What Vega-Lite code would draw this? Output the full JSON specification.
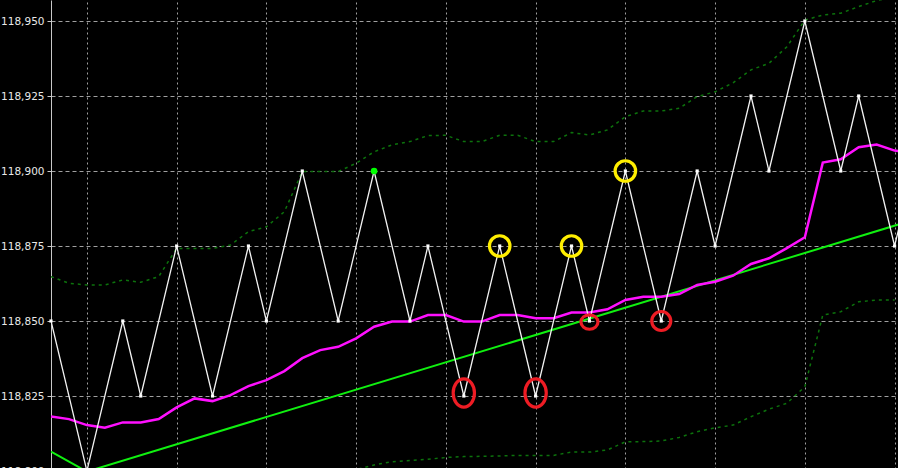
{
  "$schema": "https://vega.github.io/schema/vega-lite/v6.json",
  "width": 847,
  "height": 468,
  "autosize": {"type": "none"},
  "padding": {"left": 51, "top": 0, "right": 0, "bottom": 0},
  "background": "#000000",
  "config": {"view": {"stroke": null}},
  "datasets": {
    "price": [
      {"i": 0, "v": 118.850}, {"i": 2, "v": 118.800}, {"i": 4, "v": 118.850}, {"i": 5, "v": 118.825},
      {"i": 7, "v": 118.875}, {"i": 9, "v": 118.825}, {"i": 11, "v": 118.875}, {"i": 12, "v": 118.850},
      {"i": 14, "v": 118.900}, {"i": 16, "v": 118.850}, {"i": 18, "v": 118.900}, {"i": 20, "v": 118.850},
      {"i": 21, "v": 118.875}, {"i": 23, "v": 118.825}, {"i": 25, "v": 118.875}, {"i": 27, "v": 118.825},
      {"i": 29, "v": 118.875}, {"i": 30, "v": 118.850}, {"i": 32, "v": 118.900}, {"i": 34, "v": 118.850},
      {"i": 36, "v": 118.900}, {"i": 37, "v": 118.875}, {"i": 39, "v": 118.925}, {"i": 40, "v": 118.900},
      {"i": 42, "v": 118.950}, {"i": 44, "v": 118.900}, {"i": 45, "v": 118.925}, {"i": 47, "v": 118.875},
      {"i": 48, "v": 118.900}
    ],
    "ma": [
      {"i": 0, "v": 118.8182}, {"i": 1, "v": 118.8173}, {"i": 2, "v": 118.8153}, {"i": 3, "v": 118.8144},
      {"i": 4, "v": 118.8162}, {"i": 5, "v": 118.8162}, {"i": 6, "v": 118.8173}, {"i": 7, "v": 118.8212},
      {"i": 8, "v": 118.8242}, {"i": 9, "v": 118.8233}, {"i": 10, "v": 118.8253}, {"i": 11, "v": 118.8283},
      {"i": 12, "v": 118.8303}, {"i": 13, "v": 118.8333}, {"i": 14, "v": 118.8376}, {"i": 15, "v": 118.8403},
      {"i": 16, "v": 118.8414}, {"i": 17, "v": 118.8442}, {"i": 18, "v": 118.8481}, {"i": 19, "v": 118.8498},
      {"i": 20, "v": 118.8498}, {"i": 21, "v": 118.8520}, {"i": 22, "v": 118.8520}, {"i": 23, "v": 118.8498},
      {"i": 24, "v": 118.8498}, {"i": 25, "v": 118.8520}, {"i": 26, "v": 118.8520}, {"i": 27, "v": 118.8509},
      {"i": 28, "v": 118.8509}, {"i": 29, "v": 118.8528}, {"i": 30, "v": 118.8528}, {"i": 31, "v": 118.8539},
      {"i": 32, "v": 118.8570}, {"i": 33, "v": 118.8581}, {"i": 34, "v": 118.8581}, {"i": 35, "v": 118.8590},
      {"i": 36, "v": 118.8620}, {"i": 37, "v": 118.8631}, {"i": 38, "v": 118.8651}, {"i": 39, "v": 118.8690},
      {"i": 40, "v": 118.8709}, {"i": 41, "v": 118.8743}, {"i": 42, "v": 118.8779}, {"i": 43, "v": 118.9028},
      {"i": 44, "v": 118.9039}, {"i": 45, "v": 118.9079}, {"i": 46, "v": 118.9088}, {"i": 47, "v": 118.9068},
      {"i": 48, "v": 118.9062}
    ],
    "trend": [
      {"i": 0, "v": 118.8065}, {"i": 2, "v": 118.7998}, {"i": 48, "v": 118.8836}
    ],
    "upper": [
      {"i": 0, "v": 118.8648}, {"i": 1, "v": 118.8626}, {"i": 2, "v": 118.8620}, {"i": 3, "v": 118.8620},
      {"i": 4, "v": 118.8637}, {"i": 5, "v": 118.8629}, {"i": 6, "v": 118.8648}, {"i": 7, "v": 118.8742},
      {"i": 8, "v": 118.8742}, {"i": 9, "v": 118.8742}, {"i": 10, "v": 118.8753}, {"i": 11, "v": 118.8798},
      {"i": 12, "v": 118.8814}, {"i": 13, "v": 118.8864}, {"i": 14, "v": 118.8998}, {"i": 15, "v": 118.8998},
      {"i": 16, "v": 118.8998}, {"i": 17, "v": 118.9026}, {"i": 18, "v": 118.9064}, {"i": 19, "v": 118.9087},
      {"i": 20, "v": 118.9098}, {"i": 21, "v": 118.9118}, {"i": 22, "v": 118.9119}, {"i": 23, "v": 118.9098},
      {"i": 24, "v": 118.9098}, {"i": 25, "v": 118.9119}, {"i": 26, "v": 118.9119}, {"i": 27, "v": 118.9098},
      {"i": 28, "v": 118.9098}, {"i": 29, "v": 118.9128}, {"i": 30, "v": 118.9120}, {"i": 31, "v": 118.9137},
      {"i": 32, "v": 118.9181}, {"i": 33, "v": 118.9200}, {"i": 34, "v": 118.9200}, {"i": 35, "v": 118.9209},
      {"i": 36, "v": 118.9248}, {"i": 37, "v": 118.9264}, {"i": 38, "v": 118.9294}, {"i": 39, "v": 118.9337},
      {"i": 40, "v": 118.9359}, {"i": 41, "v": 118.9414}, {"i": 42, "v": 118.9503}, {"i": 43, "v": 118.9520},
      {"i": 44, "v": 118.9526}, {"i": 45, "v": 118.9548}, {"i": 46, "v": 118.9568}, {"i": 47, "v": 118.9580}
    ],
    "lower": [
      {"i": 16, "v": 118.7990}, {"i": 17, "v": 118.8005}, {"i": 18, "v": 118.8020}, {"i": 19, "v": 118.8031},
      {"i": 20, "v": 118.8035}, {"i": 21, "v": 118.8039}, {"i": 22, "v": 118.8045}, {"i": 23, "v": 118.8048},
      {"i": 24, "v": 118.8049}, {"i": 25, "v": 118.8050}, {"i": 26, "v": 118.8052}, {"i": 27, "v": 118.8052},
      {"i": 28, "v": 118.8052}, {"i": 29, "v": 118.8063}, {"i": 30, "v": 118.8063}, {"i": 31, "v": 118.8070},
      {"i": 32, "v": 118.8097}, {"i": 33, "v": 118.8098}, {"i": 34, "v": 118.8100}, {"i": 35, "v": 118.8112},
      {"i": 36, "v": 118.8131}, {"i": 37, "v": 118.8144}, {"i": 38, "v": 118.8153}, {"i": 39, "v": 118.8181},
      {"i": 40, "v": 118.8206}, {"i": 41, "v": 118.8226}, {"i": 42, "v": 118.8281}, {"i": 43, "v": 118.8520},
      {"i": 44, "v": 118.8531}, {"i": 45, "v": 118.8564}, {"i": 46, "v": 118.8570}, {"i": 47, "v": 118.8570}
    ],
    "marks": [
      {"i": 23, "v": 118.825, "kind": "red_tall"},
      {"i": 27, "v": 118.825, "kind": "red_tall"},
      {"i": 30, "v": 118.850, "kind": "red_small"},
      {"i": 34, "v": 118.850, "kind": "red_round"},
      {"i": 25, "v": 118.875, "kind": "yellow"},
      {"i": 29, "v": 118.875, "kind": "yellow"},
      {"i": 32, "v": 118.900, "kind": "yellow"}
    ]
  },
  "encoding": {
    "x": {
      "field": "i", "type": "quantitative",
      "scale": {"domain": [0, 47.19], "nice": false, "zero": false},
      "axis": {
        "values": [2, 7, 12, 17, 22, 27, 32, 37, 42, 47],
        "labels": false, "ticks": false, "domain": false, "title": null,
        "grid": true, "gridColor": "#a0a0a0", "gridDash": [2, 3], "gridWidth": 1, "gridOpacity": 1
      }
    },
    "y": {
      "field": "v", "type": "quantitative",
      "scale": {"domain": [118.8, 118.957], "range": [471, 0], "nice": false, "zero": false},
      "axis": {
        "values": [118.8, 118.825, 118.85, 118.875, 118.9, 118.925, 118.95],
        "title": null,
        "grid": true, "gridColor": "#a0a0a0", "gridDash": [4, 3], "gridWidth": 1, "gridOpacity": 1,
        "domain": true, "domainColor": "#c8c8c8", "domainWidth": 1,
        "ticks": true, "tickSize": 4, "tickColor": "#c8c8c8",
        "labelColor": "#e8e8e8", "labelFont": "DejaVu Sans", "labelFontSize": 10.5, "labelPadding": 3,
        "labelExpr": "replace(format(datum.value, '.3f'), '.', ',')"
      }
    }
  },
  "layer": [
    {"data": {"name": "upper"}, "mark": {"type": "line", "color": "#0c720c", "strokeWidth": 1.5, "strokeDash": [3, 4], "clip": true}},
    {"data": {"name": "lower"}, "mark": {"type": "line", "color": "#0c720c", "strokeWidth": 1.5, "strokeDash": [3, 4], "clip": true}},
    {"data": {"name": "trend"}, "mark": {"type": "line", "color": "#10f010", "strokeWidth": 2, "clip": true}},
    {"data": {"name": "ma"}, "mark": {"type": "line", "color": "#ff10ff", "strokeWidth": 2.5, "clip": true}},
    {"data": {"name": "price"}, "mark": {"type": "line", "color": "#f2f2f2", "strokeWidth": 1.3, "clip": true}},
    {"data": {"name": "price"}, "transform": [{"filter": "datum.i <= 47"}], "mark": {"type": "point", "shape": "square", "size": 10, "filled": true, "color": "#ffffff", "opacity": 1}},
    {"data": {"name": "price"}, "transform": [{"filter": "datum.i == 18"}], "mark": {"type": "point", "shape": "circle", "size": 45, "filled": true, "color": "#00ff00", "opacity": 1}},
    {"data": {"name": "marks"}, "transform": [{"filter": "datum.kind == 'red_tall'"}], "mark": {"type": "point", "shape": "M -0.758 0 A 0.758 1 0 1 0 0.758 0 A 0.758 1 0 1 0 -0.758 0 Z", "size": 790, "filled": false, "color": "#ee1c24", "strokeWidth": 3.2, "opacity": 1, "yOffset": -3}},
    {"data": {"name": "marks"}, "transform": [{"filter": "datum.kind == 'red_small'"}], "mark": {"type": "point", "shape": "M -1 0 A 1 0.85 0 1 0 1 0 A 1 0.85 0 1 0 -1 0 Z", "size": 289, "filled": false, "color": "#ee1c24", "strokeWidth": 3.2, "opacity": 1, "yOffset": 1}},
    {"data": {"name": "marks"}, "transform": [{"filter": "datum.kind == 'red_round'"}], "mark": {"type": "point", "shape": "circle", "size": 361, "filled": false, "color": "#ee1c24", "strokeWidth": 3.2, "opacity": 1}},
    {"data": {"name": "marks"}, "transform": [{"filter": "datum.kind == 'yellow'"}], "mark": {"type": "point", "shape": "circle", "size": 420, "filled": false, "color": "#ffee00", "strokeWidth": 3.2, "opacity": 1}}
  ]
}
